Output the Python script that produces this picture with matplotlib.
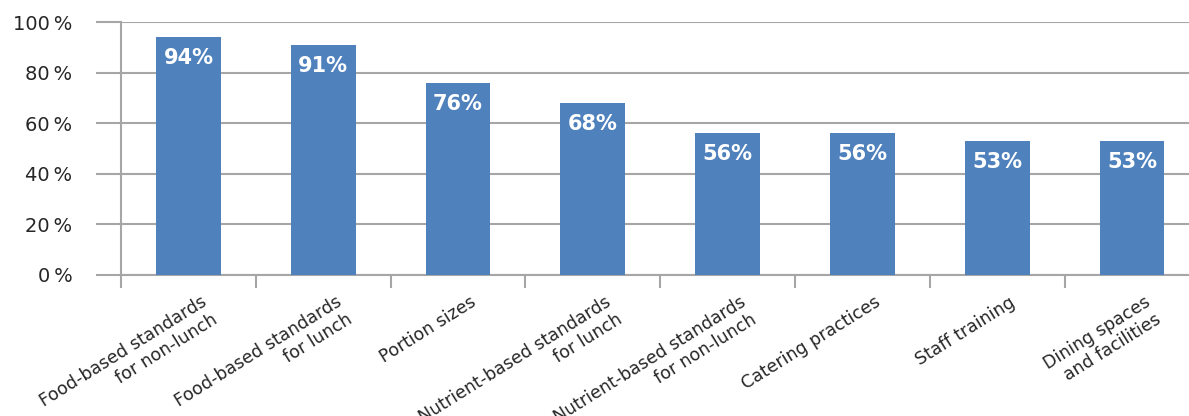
import numpy as np
import matplotlib
matplotlib.use("Agg")
import matplotlib.pyplot as plt
import matplotlib.transforms as mtransforms
from matplotlib.ticker import FixedLocator

# Data
categories = [
    "Food-based standards\nfor non-lunch",
    "Food-based standards\nfor lunch",
    "Portion sizes",
    "Nutrient-based standards\nfor lunch",
    "Nutrient-based standards\nfor non-lunch",
    "Catering practices",
    "Staff training",
    "Dining spaces\nand facilities",
]
values = [94, 91, 76, 68, 56, 56, 53, 53]
y_ticks = [0, 20, 40, 60, 80, 100]

bar_color = "#4f81bd"
grid_color = "#a6a6a6"
text_color = "#262626"

fig = plt.figure(figsize=(11.89, 4.16), dpi=100)
ax = fig.add_axes([121 / 1189, 1 - 275 / 416, 1 - 121 / 1189, (275 - 22) / 416])

x = np.arange(len(categories))
ax.bar(x, values, width=0.48, color=bar_color, zorder=3)

# value labels inside bars
for xi, v in zip(x, values):
    ax.annotate(f"{v}%", (xi, v), xytext=(0, -8), textcoords="offset points",
                ha="center", va="top", color="white", fontsize=15,
                fontweight="bold", zorder=4)

ax.set_ylim(0, 100)
ax.set_xlim(-0.5, -0.5 + 1068 / 134.8)

ax.set_yticks(y_ticks)
ax.set_yticklabels([f"{t}\u2009%" for t in y_ticks], fontsize=14, color=text_color)
ax.yaxis.grid(True, color=grid_color, linewidth=1.5, zorder=0)
ax.tick_params(axis="y", length=18, width=1.5, color=grid_color, pad=17)

ax.set_xticks(x)
ax.set_xticklabels(categories, fontsize=12.5, color=text_color)
ax.tick_params(axis="x", which="major", length=0, pad=13)
ax.xaxis.set_minor_locator(FixedLocator(np.arange(len(categories) + 1) - 0.5))
ax.tick_params(axis="x", which="minor", length=9, width=1.5, color=grid_color)

# shift rotated labels so their right end sits near the bar
offset = mtransforms.ScaledTranslation(12 / 100, 0, fig.dpi_scale_trans)
for lab in ax.get_xticklabels():
    lab.set_rotation(32)
    lab.set_ha("right")
    lab.set_va("top")
    lab.set_rotation_mode("anchor")
    lab.set_multialignment("right")
    lab.set_transform(lab.get_transform() + offset)

for side in ["top", "right"]:
    ax.spines[side].set_visible(False)
for side in ["left", "bottom"]:
    ax.spines[side].set_color(grid_color)
    ax.spines[side].set_linewidth(1.5)
ax.set_axisbelow(True)

fig.savefig("out.png", dpi=100)
